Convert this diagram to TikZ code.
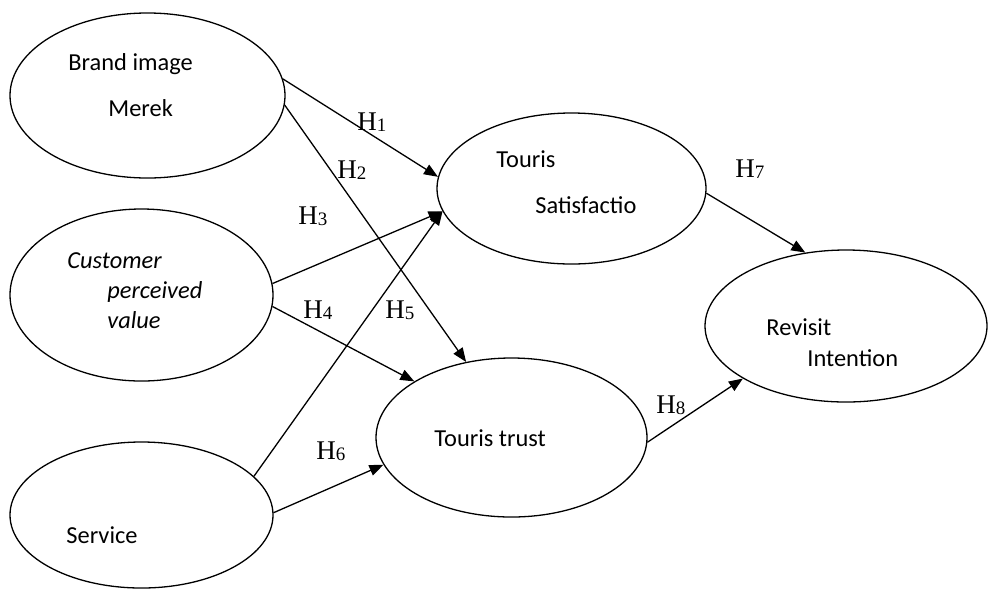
\documentclass[tikz,border=0pt]{standalone}
\usepackage{fontspec}
\setmainfont{Carlito}
\newfontfamily\hypfont{Liberation Serif}
\usepackage{tikz}
\usetikzlibrary{arrows.meta,shapes.geometric}

\newcommand{\hyp}[1]{{\hypfont\fontsize{13.5}{15}\selectfont H\lower0.6pt\hbox{\fontsize{9.5}{11}\selectfont #1}}}

\begin{document}
\begin{tikzpicture}[x=0.5pt,y=-0.5pt,
  construct/.style={draw,ellipse,line width=0.65pt,inner sep=0pt},
  txt/.style={anchor=base west,inner sep=0pt,font=\fontsize{12.2}{14}\selectfont},
  hlbl/.style={anchor=base west,inner sep=0pt},
  link/.style={line width=0.65pt,-{Triangle[length=7pt,width=5.5pt]}}]
  \useasboundingbox (0,0) rectangle (988,590);
  % constructs
  \node[construct,minimum width=137.5pt,minimum height=82.5pt] (brand) at (147.5,95.5) {};
  \node[construct,minimum width=131.5pt,minimum height=86pt] (cpv) at (141.5,295) {};
  \node[construct,minimum width=131.5pt,minimum height=73pt] (serv) at (141.5,515) {};
  \node[construct,minimum width=134.5pt,minimum height=75.5pt] (sat) at (571.5,188.5) {};
  \node[construct,minimum width=135.5pt,minimum height=79.5pt] (trust) at (511.5,437.5) {};
  \node[construct,minimum width=141pt,minimum height=76pt] (rev) at (846,326) {};
  % construct texts
  \node[txt] (brandA) at (68,70) {Brand image};
  \node[txt] (brandB) at (108,116) {Merek};
  \node[txt] (cpvA) at (67,268) {\itshape Customer};
  \node[txt] (cpvB) at (107,298) {\itshape perceived};
  \node[txt] (cpvC) at (107,328) {\itshape value};
  \node[txt] (servA) at (66,543) {Service};
  \node[txt] (satA) at (496,167) {Touris};
  \node[txt] (satB) at (535,213) {Satisfactio};
  \node[txt] (trustA) at (434,446) {Touris trust};
  \node[txt] (revA) at (766,335) {Revisit};
  \node[txt] (revB) at (807,366) {Intention};
  % paths
  \draw[link] (brand.7) -- (sat.175);
  \draw[link] (brand.-4) -- (trust.121);
  \draw[link] (cpv.5) -- (sat.190);
  \draw[link] (cpv.-5) -- (trust.150);
  \draw[link] (serv.19) -- (sat.190);
  \draw[link] (serv.1) -- (trust.192);
  \draw[link] (sat.-2) -- (rev.119);
  \draw[link] (trust.-2) -- (rev.207);
  % hypotheses
  \node[hlbl] (h1) at (357,130) {\hyp{1}};
  \node[hlbl] (h2) at (337,178) {\hyp{2}};
  \node[hlbl] (h3) at (298,224) {\hyp{3}};
  \node[hlbl] (h4) at (303,318) {\hyp{4}};
  \node[hlbl] (h5) at (385,318) {\hyp{5}};
  \node[hlbl] (h6) at (316,459) {\hyp{6}};
  \node[hlbl] (h7) at (735,177) {\hyp{7}};
  \node[hlbl] (h8) at (656,413) {\hyp{8}};
\end{tikzpicture}
\end{document}
